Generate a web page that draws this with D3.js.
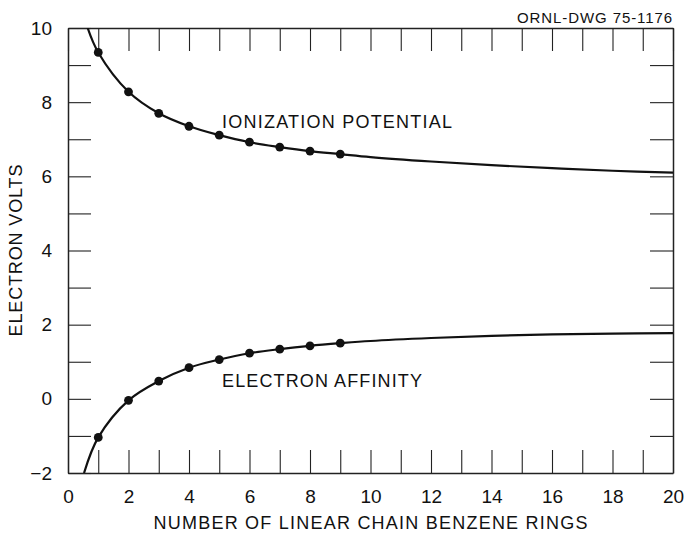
<!DOCTYPE html>
<html>
<head>
<meta charset="utf-8">
<script src="https://cdn.jsdelivr.net/npm/d3@7"></script>
<style>
body { margin: 0; background: #fff; }
text { font-family: "Liberation Sans", Arial, sans-serif; fill: #111; }
</style>
</head>
<body>
<script>
// points
var rings = [1, 2, 3, 4, 5, 6, 7, 8, 9]
var ionization = [9.34, 8.28, 7.70, 7.35, 7.11, 6.92, 6.79, 6.68, 6.60]
var affinity = [-1.04, -0.04, 0.48, 0.84, 1.06, 1.23, 1.34, 1.43, 1.50]

// curve traced past the points (ends of the drawn line)
var ipHeadX = [0.65], ipHead = [10.0]
var ipTailX = [10, 12, 14, 16, 18, 20]
var ipTail = [6.52, 6.40, 6.30, 6.22, 6.15, 6.10]
var eaHeadX = [0.53], eaHead = [-2.0]
var eaTailX = [10, 12, 14, 16, 18, 20]
var eaTail = [1.56, 1.64, 1.70, 1.74, 1.76, 1.77]

var xTicks = d3.range(0, 21)
var yTicks = d3.range(-2, 11)

const width = 687, height = 535
var margin = {left: 68, right: 14, top: 28, bottom: 62}

var svg = d3.select("body").append("svg")
	.attr("width", width)
	.attr("height", height)

var x = d3.scaleLinear().domain([0, 20]).range([margin.left, width - margin.right])
var y = d3.scaleLinear().domain([-2, 10]).range([height - margin.bottom, margin.top])

var tick = 23

// frame + inward ticks
function styleAxis(g) {
	g.select(".domain").attr("stroke", "#222").attr("stroke-width", 1.5)
	g.selectAll(".tick line").attr("stroke", "#222").attr("stroke-width", 1.1)
	g.selectAll(".tick text").attr("font-size", 19).attr("fill", "#111")
}

svg.append("g")
	.attr("transform", "translate(0," + y(-2) + ")")
	.call(d3.axisBottom(x).tickValues(xTicks).tickSizeInner(-tick).tickSizeOuter(0).tickPadding(17)
		.tickFormat(function(d) { return d % 2 ? "" : d }))
	.call(styleAxis)

svg.append("g")
	.attr("transform", "translate(0," + y(10) + ")")
	.call(d3.axisTop(x).tickValues(xTicks).tickSizeInner(-tick).tickSizeOuter(0).tickFormat(""))
	.call(styleAxis)

svg.append("g")
	.attr("transform", "translate(" + x(0) + ",0)")
	.call(d3.axisLeft(y).tickValues(yTicks).tickSizeInner(-tick).tickSizeOuter(0).tickPadding(16)
		.tickFormat(function(d) { return d % 2 ? "" : (d < 0 ? "\u2212" + (-d) : d) }))
	.call(styleAxis)

svg.append("g")
	.attr("transform", "translate(" + x(20) + ",0)")
	.call(d3.axisRight(y).tickValues(yTicks).tickSizeInner(-tick).tickSizeOuter(0).tickFormat(""))
	.call(styleAxis)

// curves
svg.append("clipPath").attr("id", "plot")
	.append("rect")
	.attr("x", x(0)).attr("y", y(10))
	.attr("width", x(20) - x(0)).attr("height", y(-2) - y(10))

var line = d3.line()
	.x(function(d) { return x(d[0]) })
	.y(function(d) { return y(d[1]) })
	.curve(d3.curveCatmullRom.alpha(0.5))

function pts(xs, ys) { return xs.map(function(v, i) { return [v, ys[i]] }) }

var ipLine = pts(ipHeadX, ipHead).concat(pts(rings, ionization), pts(ipTailX, ipTail))
var eaLine = pts(eaHeadX, eaHead).concat(pts(rings, affinity), pts(eaTailX, eaTail))

var curves = svg.append("g").attr("clip-path", "url(#plot)")
curves.selectAll("path")
	.data([ipLine, eaLine])
	.enter().append("path")
	.attr("d", line)
	.attr("fill", "none")
	.attr("stroke", "#111")
	.attr("stroke-width", 2.2)

curves.selectAll("circle.ip")
	.data(pts(rings, ionization))
	.enter().append("circle")
	.attr("class", "ip")
	.attr("cx", function(d) { return x(d[0]) })
	.attr("cy", function(d) { return y(d[1]) })
	.attr("r", 4.4)
	.attr("fill", "#111")

curves.selectAll("circle.ea")
	.data(pts(rings, affinity))
	.enter().append("circle")
	.attr("class", "ea")
	.attr("cx", function(d) { return x(d[0]) })
	.attr("cy", function(d) { return y(d[1]) })
	.attr("r", 4.4)
	.attr("fill", "#111")

// labels
svg.append("text")
	.attr("x", 222).attr("y", 128)
	.attr("font-size", 18)
	.attr("textLength", 230).attr("lengthAdjust", "spacing")
	.text("IONIZATION POTENTIAL")

svg.append("text")
	.attr("x", 222).attr("y", 387)
	.attr("font-size", 18)
	.attr("textLength", 200).attr("lengthAdjust", "spacing")
	.text("ELECTRON AFFINITY")

svg.append("text")
	.attr("x", 672).attr("y", 23)
	.attr("text-anchor", "end")
	.attr("font-size", 15)
	.attr("textLength", 155).attr("lengthAdjust", "spacing")
	.text("ORNL-DWG 75-1176")

svg.append("text")
	.attr("x", (x(0) + x(20)) / 2).attr("y", 529)
	.attr("text-anchor", "middle")
	.attr("font-size", 18)
	.attr("textLength", 434).attr("lengthAdjust", "spacing")
	.text("NUMBER OF LINEAR CHAIN BENZENE RINGS")

svg.append("text")
	.attr("transform", "translate(22," + (y(-2) + y(10)) / 2 + ") rotate(-90)")
	.attr("text-anchor", "middle")
	.attr("font-size", 18)
	.attr("textLength", 172).attr("lengthAdjust", "spacing")
	.text("ELECTRON VOLTS")
</script>
</body>
</html>
